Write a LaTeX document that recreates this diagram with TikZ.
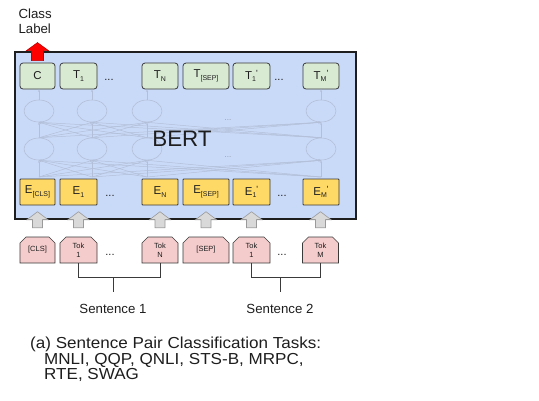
\documentclass[tikz,border=0pt]{standalone}
\usepackage{fontspec}
\setmainfont{Liberation Sans}
\newfontfamily\capfont[FakeStretch=1.07]{Liberation Sans}
\usetikzlibrary{shapes.misc,shapes.geometric,arrows.meta,calc}
\definecolor{bertblue}{HTML}{C9DAF8}
\definecolor{tgreen}{HTML}{D9EAD3}
\definecolor{eyellow}{HTML}{FFD966}
\definecolor{tokpink}{HTML}{F4CCCC}
\definecolor{boxline}{HTML}{3A3A3A}
\definecolor{netc}{HTML}{B3BFD8}
\definecolor{arrgray}{HTML}{D9D9D9}
\definecolor{arrline}{HTML}{9A9A9A}
\definecolor{txt}{HTML}{1E1E1E}
\newcommand\sbs[2]{#1\raisebox{-2.5bp}{\fontsize{7}{8}\selectfont #2}}
\newcommand\sbp[2]{#1\raisebox{-2.5bp}{\fontsize{7}{8}\selectfont #2}\raisebox{2.5bp}{\fontsize{9}{9}\selectfont\textquotesingle}}
\begin{document}
\begin{tikzpicture}[x=1bp,y=-1bp,
  bigbox/.style={draw=txt,line width=1.4bp,fill=bertblue,inner sep=0},
  tbox/.style={draw=boxline,line width=0.8bp,fill=tgreen,rounded corners=3bp,minimum height=26bp,inner sep=0,text=txt,font=\fontsize{11.5}{13}\selectfont},
  ebox/.style={draw=boxline,line width=0.8bp,fill=eyellow,rounded corners=0.8bp,minimum height=26bp,inner sep=0,text=txt,font=\fontsize{11.5}{13}\selectfont},
  tokbox/.style={draw=boxline,line width=0.6bp,fill=tokpink,chamfered rectangle,chamfered rectangle corners={north west,north east},chamfered rectangle xsep=2.5bp,chamfered rectangle angle=45,minimum height=26bp,inner sep=0,align=center,text=txt,font=\fontsize{7.5}{9}\selectfont},
  ell/.style={draw=netc,line width=0.6bp,ellipse,minimum width=30bp,minimum height=22bp,inner sep=0},
  netline/.style={draw=netc,line width=0.5bp,-{Stealth[length=2.5bp,width=2bp]}},
  grayarrow/.style={fill=arrgray,draw=arrline,line width=0.6bp},
  redarrow/.style={fill=red,draw=red!75!black,line width=0.6bp},
  dots/.style={text=txt,font=\fontsize{11}{13}\selectfont,anchor=base},
  ndots/.style={text=netc!80!black,font=\fontsize{8}{9}\selectfont,anchor=base},
  brk/.style={draw=boxline,line width=0.9bp},
  lbl/.style={text=txt,font=\fontsize{13.3}{15}\selectfont,anchor=base}
]
\useasboundingbox (0,0) rectangle (539,400);

% Class label
\node[lbl,anchor=base west] (cl1) at (15,18.3) {Class};
\node[lbl,anchor=base west] (cl2) at (15,33.3) {Label};

% BERT container
\node[bigbox,minimum width=341bp,minimum height=167bp] (bert) at (185.5,135.5) {};

% network
\foreach \i/\x in {1/39,2/92,3/147,4/321}{
  \node[ell] (u\i) at (\x,111) {};
  \node[ell] (l\i) at (\x,149) {};
  \coordinate (b\i) at (\x,177);
}
\node[ndots] (nd1) at (228,120) {...};
\node[ndots] (nd2) at (228,157) {...};
\foreach \s in {1,2,3,4}{
  \foreach \t in {1,2,3,4}{
    \draw[netline] (l\s.north) -- (u\t.south);
    \draw[netline] (b\s) -- (l\t.south);
  }
}

% top tokens
\node[tbox,minimum width=35bp] (t1) at (37.5,76) {C};
\node[tbox,minimum width=37bp] (t2) at (78.5,76) {\sbs{T}{1}};
\node[tbox,minimum width=36bp] (t3) at (160,76) {\sbs{T}{N}};
\node[tbox,minimum width=46bp] (t4) at (206,76) {\sbs{T}{[SEP]}};
\node[tbox,minimum width=37bp] (t5) at (251.5,76) {\sbp{T}{1}};
\node[tbox,minimum width=36bp] (t6) at (321,76) {\sbp{T}{M}};
\node[dots] (td1) at (109,80) {...};
\node[dots] (td2) at (279,80) {...};

\foreach \i/\t in {1/1,2/2,3/3,4/6}{
  \draw[netline] (u\i.north) -- (u\i.north |- t\t.south);
}

% BERT text
\node[text=txt,font=\fontsize{22.5}{24}\selectfont,anchor=base] (berttxt) at (182,146.5) {BERT};

% embeddings
\node[ebox,minimum width=35bp] (e1) at (37.5,192) {\sbs{E}{[CLS]}};
\node[ebox,minimum width=37bp] (e2) at (78.5,192) {\sbs{E}{1}};
\node[ebox,minimum width=36bp] (e3) at (160,192) {\sbs{E}{N}};
\node[ebox,minimum width=46bp] (e4) at (206,192) {\sbs{E}{[SEP]}};
\node[ebox,minimum width=37bp] (e5) at (251.5,192) {\sbp{E}{1}};
\node[ebox,minimum width=36bp] (e6) at (321,192) {\sbp{E}{M}};
\node[dots] (ed1) at (110,196) {...};
\node[dots] (ed2) at (282,196) {...};

% input tokens
\node[tokbox,minimum width=35bp] (k1) at (37.5,250) {[CLS]};
\node[tokbox,minimum width=37bp] (k2) at (78.5,250) {Tok\\1};
\node[tokbox,minimum width=36bp] (k3) at (160,250) {Tok\\N};
\node[tokbox,minimum width=46bp] (k4) at (206,250) {[SEP]};
\node[tokbox,minimum width=37bp] (k5) at (251.5,250) {Tok\\1};
\node[tokbox,minimum width=36bp] (k6) at (320.5,250) {Tok\\M};
\node[dots] (kd1) at (110,255) {...};
\node[dots] (kd2) at (282,255) {...};

% gray arrows
\foreach \i in {1,...,6}{
  \coordinate (ab) at (k\i.north);
  \draw[grayarrow] ($(ab)+(-5,-9)$) -- ($(ab)+(-5,-17)$) -- ($(ab)+(-10.5,-17)$) -- ($(ab)+(0,-25)$) -- ($(ab)+(10.5,-17)$) -- ($(ab)+(5,-17)$) -- ($(ab)+(5,-9)$) -- cycle;
}

% red arrow
\coordinate (ra) at (t1.north);
\draw[redarrow] ($(ra)+(-6,-2)$) -- ($(ra)+(-6,-12)$) -- ($(ra)+(-11,-12)$) -- ($(ra)+(0,-20)$) -- ($(ra)+(11,-12)$) -- ($(ra)+(6,-12)$) -- ($(ra)+(6,-2)$) -- cycle;

% sentence brackets
\coordinate (s1m) at (113,277);
\coordinate (s2m) at (280,277);
\draw[brk] (k2.south) -- (k2.south |- s1m) -- (k3.south |- s1m) -- (k3.south);
\draw[brk] (s1m) -- ++(0,15);
\draw[brk] (k5.south) -- (k5.south |- s2m) -- (k6.south |- s2m) -- (k6.south);
\draw[brk] (s2m) -- ++(0,15);
\node[lbl] (sen1) at (113,313) {Sentence 1};
\node[lbl] (sen2) at (280,313) {Sentence 2};

% caption
\node[text=txt,font=\capfont\fontsize{16}{16}\selectfont,anchor=base west,inner sep=0] (cap1) at (30,348.5) {(a) Sentence Pair Classification Tasks:};
\node[text=txt,font=\capfont\fontsize{16}{16}\selectfont,anchor=base west,inner sep=0] (cap2) at (44,364) {MNLI, QQP, QNLI, STS-B, MRPC,};
\node[text=txt,font=\capfont\fontsize{16}{16}\selectfont,anchor=base west,inner sep=0] (cap3) at (44,379.5) {RTE, SWAG};
\end{tikzpicture}
\end{document}
